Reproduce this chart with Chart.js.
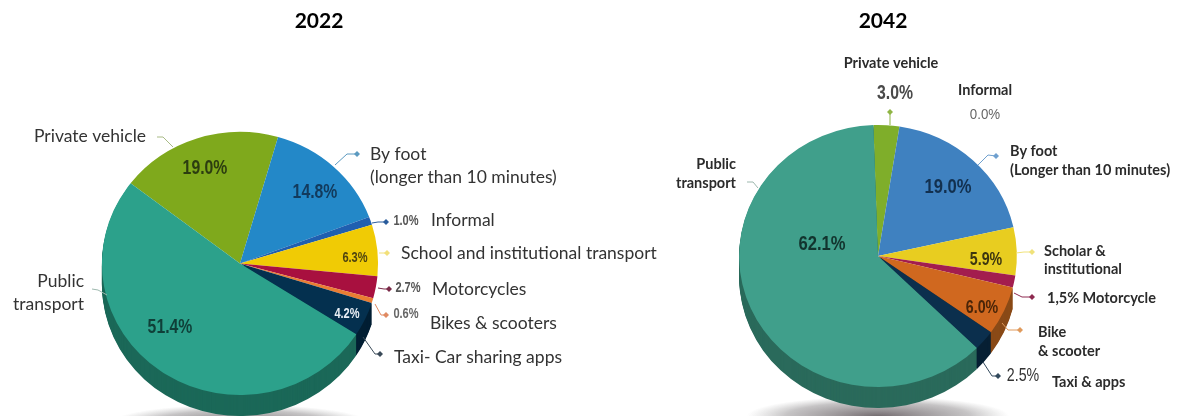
<!DOCTYPE html>
<html>
<head>
<meta charset="utf-8">
<title>Transport mode share, 2022 and 2042</title>
<script src="https://cdn.jsdelivr.net/npm/chart.js@4/dist/chart.umd.min.js"></script>
<style>
  html, body { margin: 0; padding: 0; background: #fff; overflow: hidden; }
  #wrap { position: relative; width: 1181px; height: 416px; }
  canvas { position: absolute; top: 0; }
</style>
</head>
<body>
<div id="wrap">
  <canvas id="left" style="left:0;width:680px;height:416px"></canvas>
  <canvas id="right" style="left:590px;width:591px;height:416px"></canvas>
</div>
<script>
// Mode share by year, listed clockwise from the top-left of each pie
const categories = ['Private vehicle', 'By foot', 'Informal', 'School and institutional', 'Motorcycles', 'Bikes & scooters', 'Taxi & apps', 'Public transport'];
const values2022 = [19.0, 14.8, 1.0, 6.3, 2.7, 0.6, 4.2, 51.4];
const values2042 = [3.0, 19.0, 0.0, 5.9, 1.5, 6.0, 2.5, 62.1];

const colors2022 = ['#7fa91c', '#2388c8', '#1f5fb0', '#f0cb05', '#a8103f', '#ea7d33', '#04304f', '#2ca18b'];
const colors2042 = ['#7fae2a', '#3f81c0', '#2a5fa8', '#e8cd20', '#a31d4e', '#d0681f', '#0b2f4d', '#409f8b'];
// Wall colour under each slice; slices facing away have no visible wall
const walls2022 = [null, null, null, null, null, null, '#021f33', '#1b6858'];
const walls2042 = [null, null, null, null, null, '#8a4a17', '#061f33', '#2a6a5b'];

const bodyFont = 'Lato, "Open Sans", sans-serif';
const valueFont = '"Liberation Sans", Arimo, sans-serif';

// Text placement, page pixels. align: l = left, c = centre, r = right
const text2022 = [
  { s: 'Private vehicle', x: 34, y: 136, a: 'l' },
  { s: 'By foot', x: 370, y: 154, a: 'l' },
  { s: '(longer than 10 minutes)', x: 370, y: 177, a: 'l' },
  { s: 'Informal', x: 431, y: 220, a: 'l' },
  { s: 'School and institutional transport', x: 401, y: 253, a: 'l' },
  { s: 'Motorcycles', x: 432, y: 289, a: 'l' },
  { s: 'Bikes & scooters', x: 430, y: 323, a: 'l' },
  { s: 'Taxi- Car sharing apps', x: 394, y: 357, a: 'l' },
  { s: 'Public', x: 84, y: 281, a: 'r' },
  { s: 'transport', x: 84, y: 304, a: 'r' }
];
const text2042 = [
  { s: 'Private vehicle', x: 891, y: 63, a: 'c' },
  { s: 'Informal', x: 985, y: 90, a: 'c' },
  { s: 'By foot', x: 1010, y: 151, a: 'l' },
  { s: '(Longer than 10 minutes)', x: 1010, y: 170, a: 'l' },
  { s: 'Scholar &', x: 1044, y: 251, a: 'l' },
  { s: 'institutional', x: 1044, y: 269, a: 'l' },
  { s: '1,5% Motorcycle', x: 1047, y: 298, a: 'l' },
  { s: 'Bike', x: 1038, y: 332, a: 'l' },
  { s: '& scooter', x: 1038, y: 351, a: 'l' },
  { s: 'Taxi & apps', x: 1052, y: 382, a: 'l' },
  { s: 'Public', x: 736, y: 164, a: 'r' },
  { s: 'transport', x: 736, y: 183, a: 'r' }
];

// Where each slice prints its value; omitted slices state it in the label text
const valueSpots2022 = [
  { i: 0, x: 205, y: 168, size: 20, color: '#2c3d10' },
  { i: 1, x: 315, y: 192, size: 20, color: '#123a5c' },
  { i: 2, x: 406, y: 221, size: 14, color: '#555' },
  { i: 3, x: 355, y: 258, size: 14, color: '#4f4510' },
  { i: 4, x: 408, y: 288, size: 14, color: '#555' },
  { i: 5, x: 406, y: 314, size: 14, color: '#666' },
  { i: 6, x: 347, y: 314, size: 14, color: '#e8eef5' },
  { i: 7, x: 170, y: 327, size: 20, color: '#0f3f38' }
];
const valueSpots2042 = [
  { i: 0, x: 895, y: 93, size: 20, color: '#4a4a4a' },
  { i: 1, x: 948, y: 187, size: 21, color: '#12304f' },
  { i: 2, x: 985, y: 115, size: 14, color: '#666', weight: 'normal', stretch: 0.95 },
  { i: 3, x: 986, y: 260, size: 18, color: '#3d3610' },
  { i: 5, x: 982, y: 308, size: 18, color: '#4a2508' },
  { i: 6, x: 1023, y: 376, size: 18, color: '#333', weight: 'normal' },
  { i: 7, x: 822, y: 244, size: 21, color: '#12342e' }
];

// Leader lines run from the slice edge through an elbow to a small dot
const leaders2022 = [
  { i: 0, at: [173, 147], elbow: [163, 137], end: [157, 137], dot: false, color: '#a9bb86' },
  { i: 1, at: [335, 165], elbow: [347, 154], end: [357, 154], dot: true, color: '#5c9ac0' },
  { i: 2, at: [372, 223], elbow: [378, 222], end: [386, 222], dot: true, color: '#2a5c9c' },
  { i: 3, at: [379, 253], elbow: [383, 253], end: [387, 253], dot: true, color: '#f2e07a' },
  { i: 4, at: [378, 288], elbow: [384, 289], end: [389, 289], dot: true, color: '#7a2a48' },
  { i: 5, at: [375, 304], elbow: [381, 315], end: [386, 315], dot: true, color: '#e08a62' },
  { i: 6, at: [363, 337], elbow: [375, 354], end: [380, 354], dot: true, color: '#3a4a58' },
  { i: 7, at: [107, 295], elbow: [98, 290], end: [92, 289], dot: false, color: '#9db8ae' }
];
const leaders2042 = [
  { i: 0, at: [890, 125], elbow: [890, 118], end: [890, 112], dot: true, color: '#8fb545' },
  { i: 1, at: [978, 165], elbow: [988, 155], end: [996, 156], dot: true, color: '#6fa0cf' },
  { i: 3, at: [1016, 253], elbow: [1024, 252], end: [1032, 252], dot: true, color: '#f0e27a' },
  { i: 4, at: [1014, 293], elbow: [1022, 297], end: [1032, 297], dot: true, color: '#8e2a50' },
  { i: 5, at: [1002, 323], elbow: [1008, 330], end: [1020, 330], dot: true, color: '#e09a5c' },
  { i: 6, at: [983, 362], elbow: [992, 376], end: [998, 376], dot: true, color: '#32495c' },
  { i: 7, at: [758, 188], elbow: [753, 182], end: [747, 182], dot: false, color: '#9db8ae' }
];

// Draws the floor shadow and pie wall behind the slices, then all annotation on top.
// The pie is widened slightly for its tilted look, so the transform spans the slice drawing.
const decorate = {
  id: 'decorate',
  beforeDatasetsDraw(chart, _a, opts) {
    const ctx = chart.ctx;
    const arcs = chart.getDatasetMeta(0).data;
    const cx = arcs[0].x, cy = arcs[0].y, r = arcs[0].outerRadius;

    ctx.save();
    ctx.translate(cx, cy + r + 29);
    ctx.scale(1, 0.15);
    const g = ctx.createRadialGradient(0, 0, 0, 0, 0, r);
    g.addColorStop(0, 'rgba(70,60,65,0.75)');
    g.addColorStop(0.7, 'rgba(90,85,88,0.35)');
    g.addColorStop(1, 'rgba(120,120,120,0)');
    ctx.fillStyle = g;
    ctx.beginPath();
    ctx.arc(0, 0, r, 0, Math.PI * 2);
    ctx.fill();
    ctx.restore();

    ctx.save();
    ctx.translate(cx, cy);
    ctx.scale(opts.widen, 1);
    ctx.translate(-cx, -cy);
    for (let d = opts.depth; d >= 1; d--) {
      arcs.forEach((arc, i) => {
        if (!opts.walls[i]) return;
        ctx.fillStyle = opts.walls[i];
        ctx.beginPath();
        ctx.moveTo(cx, cy + d);
        ctx.arc(cx, cy + d, r, arc.startAngle, arc.endAngle);
        ctx.closePath();
        ctx.fill();
      });
    }
  },
  afterDatasetsDraw(chart, _a, opts) {
    const ctx = chart.ctx;
    ctx.restore();
    const values = chart.data.datasets[0].data;
    ctx.save();
    ctx.translate(-opts.originX, 0);

    ctx.lineWidth = 1;
    opts.leaders.forEach(l => {
      ctx.strokeStyle = l.color;
      ctx.beginPath();
      ctx.moveTo(l.at[0], l.at[1]);
      ctx.lineTo(l.elbow[0], l.elbow[1]);
      ctx.lineTo(l.end[0], l.end[1]);
      ctx.stroke();
      if (l.dot) {
        ctx.fillStyle = l.color;
        ctx.beginPath();
        ctx.moveTo(l.end[0] - 3, l.end[1]);
        ctx.lineTo(l.end[0], l.end[1] - 3);
        ctx.lineTo(l.end[0] + 3, l.end[1]);
        ctx.lineTo(l.end[0], l.end[1] + 3);
        ctx.closePath();
        ctx.fill();
      }
    });

    ctx.textBaseline = 'middle';
    ctx.textAlign = 'center';
    ctx.fillStyle = '#000';
    ctx.font = 'bold 21px ' + bodyFont;
    ctx.fillText(opts.title, opts.titleX, 21);

    ctx.font = opts.labelFont;
    ctx.fillStyle = opts.labelColor;
    const aligns = { l: 'left', c: 'center', r: 'right' };
    opts.text.forEach(t => {
      ctx.textAlign = aligns[t.a];
      ctx.fillText(t.s, t.x, t.y);
    });

    // Percentages are set in a condensed cut of the sans face
    ctx.textAlign = 'center';
    opts.valueSpots.forEach(v => {
      ctx.save();
      ctx.translate(v.x, v.y);
      ctx.scale(v.stretch || 0.79, 1);
      ctx.font = (v.weight || 'bold') + ' ' + v.size + 'px ' + valueFont;
      ctx.fillStyle = v.color;
      ctx.fillText(values[v.i].toFixed(1) + '%', 0, 0);
      ctx.restore();
    });
    ctx.restore();
  }
};

function drawPie(id, year, values, colors, pad, rotation, extra) {
  new Chart(document.getElementById(id), {
    type: 'pie',
    data: {
      labels: categories,
      datasets: [{ data: values, backgroundColor: colors, borderWidth: 0, clip: false }]
    },
    options: {
      responsive: false,
      animation: false,
      rotation: rotation,
      layout: { padding: pad },
      plugins: {
        legend: { display: false },
        tooltip: { enabled: false },
        decorate: Object.assign({ title: year }, extra)
      }
    },
    plugins: [decorate]
  });
}

function sizeCanvas(id, w, h) {
  const c = document.getElementById(id);
  c.width = w; c.height = h;
}
sizeCanvas('left', 680, 416);
sizeCanvas('right', 591, 416);

drawPie('left', '2022', values2022, colors2022,
  { left: 108.5, right: 308.5, top: 132, bottom: 21 }, -52.4, {
    originX: 0, titleX: 319, depth: 21, widen: 1.05, walls: walls2022,
    text: text2022, valueSpots: valueSpots2022, leaders: leaders2022,
    labelFont: '17.5px ' + bodyFont, labelColor: '#333'
  });

drawPie('right', '2042', values2042, colors2042,
  { left: 157, right: 172, top: 125, bottom: 29 }, -1.9, {
    originX: 590, titleX: 883, depth: 21, widen: 1.06, walls: walls2042,
    text: text2042, valueSpots: valueSpots2042, leaders: leaders2042,
    labelFont: 'bold 14.5px ' + bodyFont, labelColor: '#2b2b2b'
  });
</script>
</body>
</html>
